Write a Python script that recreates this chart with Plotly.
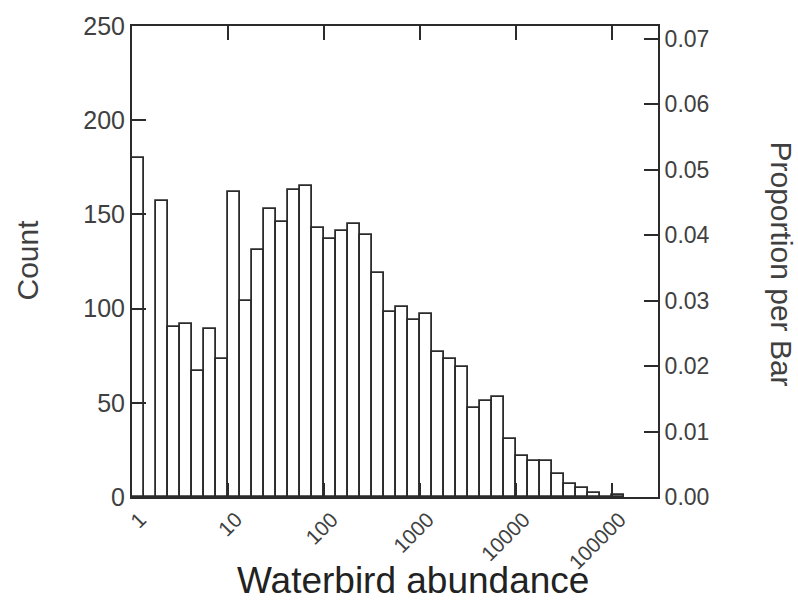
import numpy as np
import plotly.graph_objects as go

# Histogram of waterbird abundance, bins of 1/8 decade starting at 1
bins_per_decade = 8
counts = [180, 0, 157, 90, 92, 67, 89, 73, 162, 104, 131, 153, 146, 163, 165,
          143, 137, 141, 145, 139, 119, 98, 101, 94, 97, 77, 73, 69, 47, 51,
          53, 31, 22, 19, 19, 12, 7, 5, 2, 0, 1]
tick_values = [1, 10, 100, 1000, 10000, 100000]
tick_labels = ["1", "10", "100", "1000", "10000", "100000"]
count_ticks = [0, 50, 100, 150, 200, 250]
prop_ticks = [0.0, 0.01, 0.02, 0.03, 0.04, 0.05, 0.06, 0.07]

counts = np.array(counts, dtype=float)
total = counts.sum()
log_edges = np.arange(len(counts) + 1) / bins_per_decade
centers = (log_edges[:-1] + log_edges[1:]) / 2
width = 1 / bins_per_decade
props = counts / total

FONT = "Liberation Sans, Arial, sans-serif"
INK = "#2b2b2b"
TXT = "#404040"

fig = go.Figure()
fig.add_trace(go.Bar(
    x=centers, y=counts, width=width,
    marker=dict(color="white", line=dict(color=INK, width=1.8)),
    hoverinfo="skip", showlegend=False,
))
fig.add_trace(go.Bar(
    x=centers, y=props, width=width, yaxis="y2",
    marker=dict(color="rgba(0,0,0,0)", line=dict(width=0)),
    hoverinfo="skip", showlegend=False,
))

fig.update_layout(
    width=798, height=602,
    margin=dict(l=132, r=140, t=19, b=105),
    paper_bgcolor="white", plot_bgcolor="white",
    bargap=0, barmode="overlay",
    font=dict(family=FONT, color=TXT, size=22),
    xaxis=dict(
        range=[0, 5.48],
        tickvals=[np.log10(v) for v in tick_values],
        ticktext=tick_labels, tickangle=-45,
        ticklabelshift=8,
        ticks="inside", ticklen=14, tickwidth=1.6, tickcolor=INK,
        showline=True, linecolor=INK, linewidth=2, mirror="ticks",
        showgrid=False, zeroline=False,
        tickfont=dict(size=21, color=TXT),
    ),
    yaxis=dict(
        range=[0, 250], tickvals=count_ticks,
        ticks="inside", ticklen=14, tickwidth=1.6, tickcolor=INK,
        showline=True, linecolor=INK, linewidth=2, mirror=True,
        showgrid=False, zeroline=False,
        tickfont=dict(size=25, color=TXT),
    ),
    yaxis2=dict(
        overlaying="y", side="right",
        range=[0, 250 / total], tickvals=prop_ticks, tickformat=".2f",
        ticks="inside", ticklen=14, tickwidth=1.6, tickcolor=INK,
        showline=True, linecolor=INK, linewidth=2,
        showgrid=False, zeroline=False,
        tickfont=dict(size=23, color=TXT),
    ),
    annotations=[
        dict(text="Count", x=28, y=257, xref="paper", yref="paper",
             showarrow=False, textangle=-90,
             font=dict(size=30, color=TXT, family=FONT)),
        dict(text="Proportion per Bar", x=782, y=260, xref="paper", yref="paper",
             showarrow=False, textangle=90,
             font=dict(size=30, color=TXT, family=FONT)),
        dict(text="Waterbird abundance", x=413, y=582, xref="paper", yref="paper",
             showarrow=False,
             font=dict(size=37, color="#222", family=FONT)),
    ],
)

# annotation positions given in pixels; convert to paper coordinates
W, H = 798, 602
L, R, T, B = 132, 140, 19, 105
pw, ph = W - L - R, H - T - B
for a in fig.layout.annotations:
    px, py = a.x, a.y
    a.x = (px - L) / pw
    a.y = 1 - (py - T) / ph
    a.xanchor = "center"
    a.yanchor = "middle"

fig.write_html("out.html")
